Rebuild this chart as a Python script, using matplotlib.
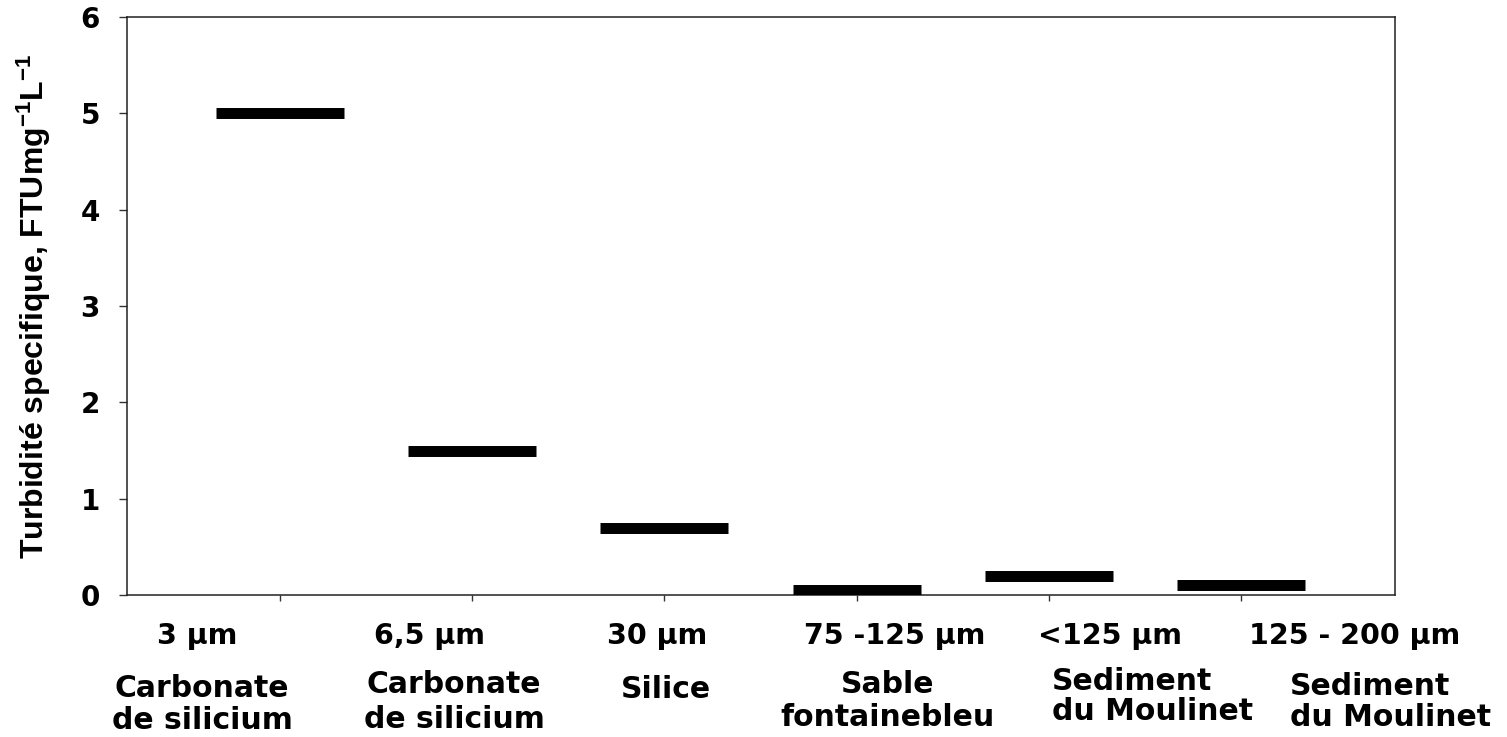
import matplotlib
matplotlib.use("Agg")
import matplotlib.pyplot as plt
import matplotlib.transforms as mtransforms

# ---- data ----
positions = [1, 2, 3, 4, 5, 6]
values = [5.0, 1.5, 0.7, 0.05, 0.2, 0.1]
size_labels = ["3 µm", "6,5 µm", "30 µm", "75 -125 µm", "<125 µm", "125 - 200 µm"]
material_line1 = ["Carbonate", "Carbonate", "Silice", "Sable", "Sediment", "Sediment"]
material_line2 = ["de silicium", "de silicium", "", "fontainebleu", "du Moulinet", "du Moulinet"]
yticks = [0, 1, 2, 3, 4, 5, 6]
ylabel = "Turbidité specifique, FTUmg$^{-1}$L$^{-1}$"

# ---- layout ----
W, H = 1507, 737
plt.rcParams['mathtext.fontset'] = 'custom'
plt.rcParams['mathtext.rm'] = 'Liberation Sans:bold'
plt.rcParams['mathtext.bf'] = 'Liberation Sans:bold'
plt.rcParams['mathtext.it'] = 'Liberation Sans:bold'

fig = plt.figure(figsize=(W / 100, H / 100), dpi=100)
ax = fig.add_axes([127 / W, 1 - 595 / H, (1395 - 127) / W, (595 - 17) / H])

half = 0.333
ax.hlines(values, [p - half for p in positions], [p + half for p in positions],
          colors='black', linewidth=7.9, capstyle='butt', zorder=3)

ax.set_xlim(0.204, 6.801)
ax.set_ylim(0, 6)
ax.set_xticks(positions)
ax.set_xticklabels([])
ax.set_yticks(yticks)
ax.set_yticklabels([str(t) for t in yticks], fontfamily='DejaVu Sans',
                   fontweight='bold', fontsize=20)
ax.tick_params(axis='x', direction='out', length=4.5, width=1.0, color='#333333')
ax.tick_params(axis='y', direction='out', length=6, width=1.0, color='#333333', pad=13.5)
for s in ax.spines.values():
    s.set_linewidth(1.1)
    s.set_color('#222222')

ax.set_ylabel(ylabel, fontfamily='Liberation Sans', fontweight='bold', fontsize=23)
ax.yaxis.set_label_coords(-0.058, 0.5)

trans = mtransforms.blended_transform_factory(ax.transData, fig.transFigure)

def fy(px):
    return 1 - px / H

size_x = [0.568, 1.78, 2.96, 4.20, 5.32, 6.59]
for x, lab in zip(size_x, size_labels):
    fig.text(x, fy(644), lab, transform=trans, ha='center', va='baseline',
             fontfamily='DejaVu Sans', fontweight='bold', fontsize=20.5)

mat_x = [0.594, 1.905, 3.006, 4.163, 5.017, 6.255]
mat_ha = ['center', 'center', 'center', 'center', 'left', 'left']
base1 = [697, 693, 698, 693, 690, 695]
base2 = [729, 728, 728, 726, 720, 726]
for x, ha, l1, l2, b1, b2 in zip(mat_x, mat_ha, material_line1, material_line2, base1, base2):
    fig.text(x, fy(b1), l1, transform=trans, ha=ha, va='baseline',
             fontfamily='DejaVu Sans', fontweight='bold', fontsize=21.5)
    if l2:
        fig.text(x, fy(b2), l2, transform=trans, ha=ha, va='baseline',
                 fontfamily='DejaVu Sans', fontweight='bold', fontsize=21.5)

fig.savefig("out.png", dpi=100)
